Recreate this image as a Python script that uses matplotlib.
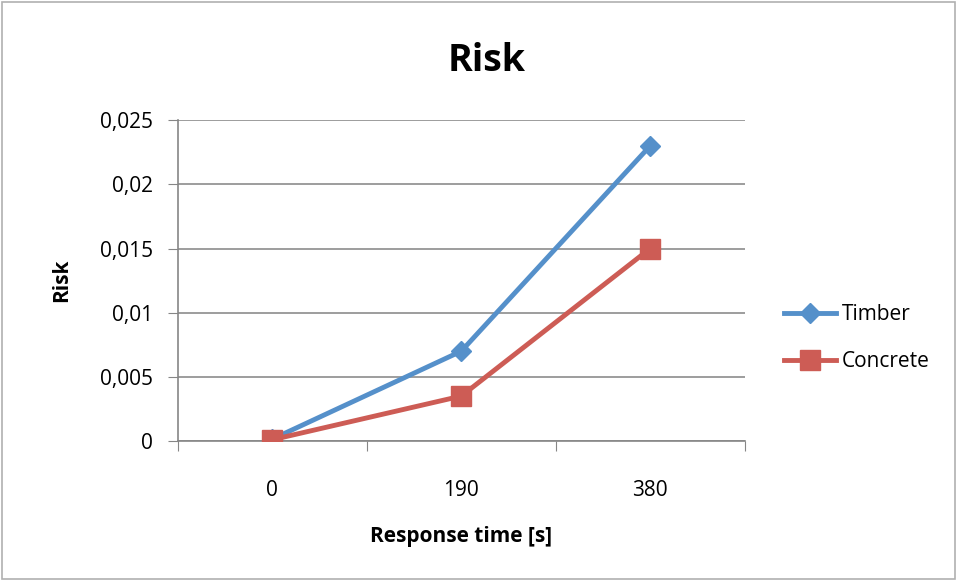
import matplotlib
matplotlib.use("Agg")
import matplotlib.pyplot as plt
from matplotlib.patches import Rectangle
from matplotlib.ticker import FuncFormatter

plt.rcParams['font.family'] = ['Open Sans', 'DejaVu Sans']

categories = ["0", "190", "380"]
timber = [0.00015, 0.007, 0.023]
concrete = [0.0001, 0.0035, 0.015]
y_ticks = [0, 0.005, 0.01, 0.015, 0.02, 0.025]

fig = plt.figure(figsize=(9.57, 5.81), dpi=100)
fig.patches.append(Rectangle((0.002, 0.003), 0.996, 0.994, transform=fig.transFigure,
                             fill=False, edgecolor="#b0b0b0", linewidth=1.2))

ax = fig.add_axes([0.186, 0.241, 0.592, 0.552])
x = list(range(len(categories)))

ax.plot(x, timber, color="#5590CA", linewidth=3.5, marker="D", markersize=10,
        label="Timber", zorder=3)
ax.plot(x, concrete, color="#CD5C55", linewidth=3.5, marker="s", markersize=14,
        label="Concrete", zorder=4)

ax.set_xlim(-0.5, 2.5)
ax.set_ylim(0, 0.025)
ax.set_yticks(y_ticks)
ax.yaxis.set_major_formatter(FuncFormatter(
    lambda v, p: "0" if v == 0 else ("%g" % round(v, 4)).replace(".", ",")))
ax.set_xticks([-0.5, 0.5, 1.5, 2.5])
ax.set_xticklabels([])
ax.set_xticks(x, minor=True)
ax.set_xticklabels(categories, minor=True)
ax.tick_params(axis="x", which="minor", length=0, pad=28, labelsize=15)
ax.tick_params(axis="x", which="major", length=7, color="#868686", direction="out")
ax.tick_params(axis="y", length=7, color="#868686", direction="out", labelsize=15, pad=11)

ax.grid(axis="y", color="#8c8c8c", linewidth=1.2)
ax.set_axisbelow(True)
for s in ["top", "right"]:
    ax.spines[s].set_visible(False)
for s in ["left", "bottom"]:
    ax.spines[s].set_color("#868686")
    ax.spines[s].set_linewidth(1.2)

fig.text(0.508, 0.895, "Risk", fontsize=27, fontweight="bold", ha="center", va="center")
ax.set_xlabel("Response time [s]", fontsize=15, fontweight="bold", labelpad=18)
ax.set_ylabel("Risk", fontsize=15, fontweight="bold", labelpad=20)

ax.legend(loc="center left", bbox_to_anchor=(0.819, 0.418), bbox_transform=fig.transFigure,
          frameon=False, fontsize=15, handlelength=2.5, handletextpad=0.3,
          labelspacing=1.25, borderaxespad=0, borderpad=0)

fig.savefig("out.png", dpi=100)
